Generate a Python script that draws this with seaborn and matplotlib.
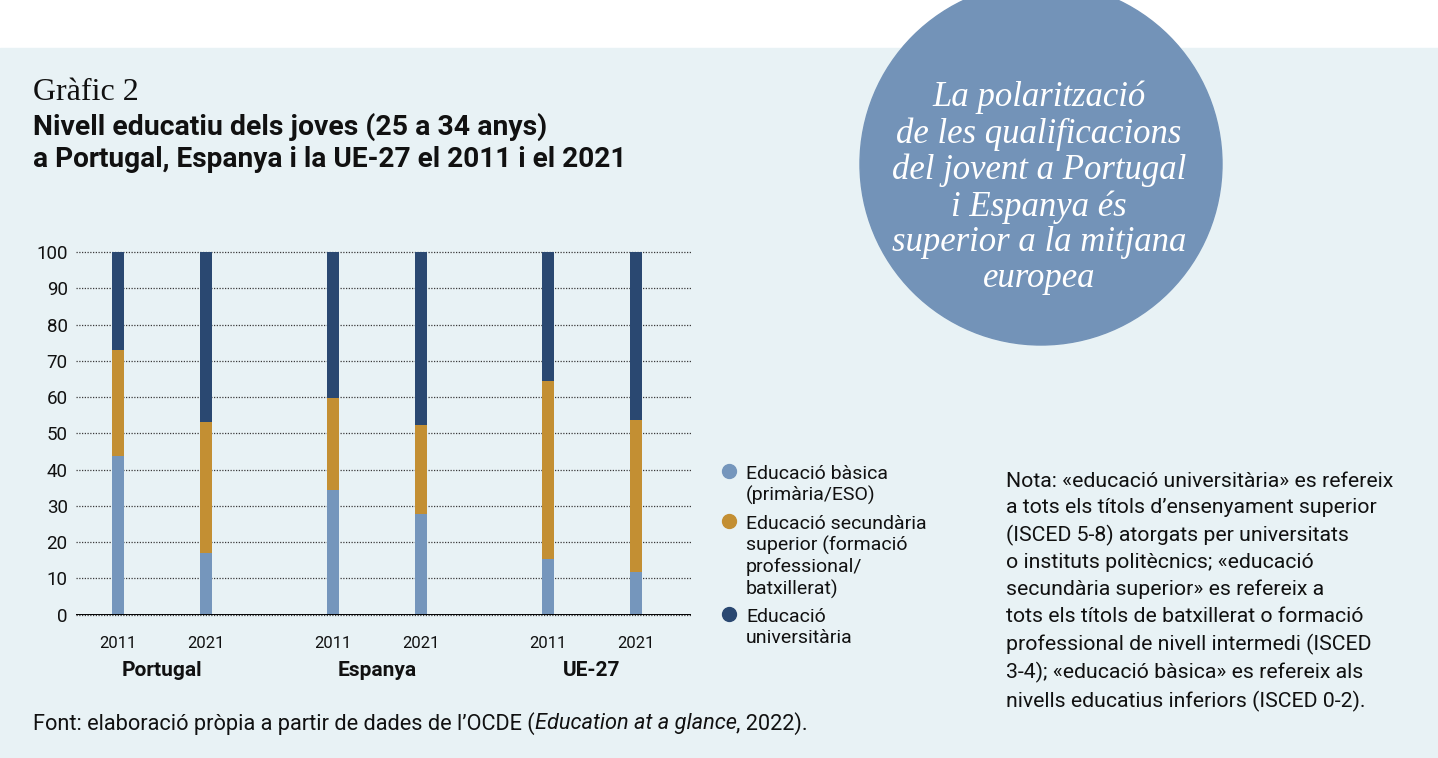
import matplotlib
matplotlib.use("Agg")
import matplotlib.pyplot as plt
import matplotlib.transforms as mtrans
from matplotlib.patches import Circle, Rectangle
import pandas as pd
import seaborn as sns

# dades (percentatge de joves de 25 a 34 anys)
paisos = ["Portugal", "Espanya", "UE-27"]
anys = ["2011", "2021"]
basica = [43.8, 16.9, 34.3, 27.8, 15.3, 11.7]
secundaria = [29.2, 36.2, 25.5, 24.5, 49.2, 42.0]
universitaria = [27.0, 46.9, 40.2, 47.7, 35.5, 46.3]
y_ticks = list(range(0, 101, 10))

legend_labels = [
    "Educació bàsica\n(primària/ESO)",
    "Educació secundària\nsuperior (formació\nprofessional/\nbatxillerat)",
    "Educació\nuniversitària",
]
nota = (
    "Nota: «educació universitària» es refereix\n"
    "a tots els títols d’ensenyament superior\n"
    "(ISCED 5-8) atorgats per universitats\n"
    "o instituts politècnics; «educació\n"
    "secundària superior» es refereix a\n"
    "tots els títols de batxillerat o formació\n"
    "professional de nivell intermedi (ISCED\n"
    "3-4); «educació bàsica» es refereix als\n"
    "nivells educatius inferiors (ISCED 0-2)."
)
destacat = (
    "La polarització\nde les qualificacions\ndel jovent a Portugal\n"
    "i Espanya és\nsuperior a la mitjana\neuropea"
)

BG = "#E8F2F5"
C_BAS = "#7596BC"
C_SEC = "#C38F33"
C_UNI = "#2A4871"
C_CIRCLE = "#7393B8"
TXT = "#111111"

df = pd.DataFrame({
    "pais": [p for p in paisos for a in anys],
    "any": anys * len(paisos),
    "basica": basica,
    "secundaria": secundaria,
    "universitaria": universitaria,
})
df["nivell2"] = df["basica"] + df["secundaria"]
df["nivell3"] = df["nivell2"] + df["universitaria"]

sns.set_theme(style="white")
plt.rcParams["font.family"] = ["Roboto", "DejaVu Sans"]
plt.rcParams["text.color"] = TXT

W, H = 1438, 758
fig = plt.figure(figsize=(W / 100, H / 100), dpi=100, facecolor="white")

# overlay in pixel coords (background, circle, texts)
ov = fig.add_axes([0, 0, 1, 1])
ov.set_xlim(0, W)
ov.set_ylim(H, 0)
ov.axis("off")
ov.add_patch(Rectangle((0, 48), W, H - 48, color=BG, zorder=0))
ov.add_patch(Circle((1041, 164), 181, color=C_CIRCLE, zorder=1))

ov.text(1039, 188, destacat, ha="center", va="center", ma="center",
        color="white", fontsize=25, style="italic", family="Liberation Serif",
        linespacing=1.115, zorder=2)

ov.text(33, 100, "Gràfic 2", family="Liberation Serif", fontsize=23, va="baseline")
ov.text(33, 135, "Nivell educatiu dels joves (25 a 34 anys)", fontsize=20.4,
        fontweight="bold", va="baseline")
ov.text(33, 167, "a Portugal, Espanya i la UE-27 el 2011 i el 2021", fontsize=20.2,
        fontweight="bold", va="baseline")

# llegenda
leg_y = [471, 521, 614]
for lbl, col, y in zip(legend_labels, [C_BAS, C_SEC, C_UNI], leg_y):
    ov.plot([729], [y], "o", ms=10, color=col)
    ov.text(746, y - 6, lbl, fontsize=14, va="top", linespacing=1.21)

ov.text(1006, 472, nota, fontsize=15.3, va="top", linespacing=1.48)

# font (amb part en cursiva)
fs_font = 15.7
t1 = ov.text(33, 724, "Font: elaboració pròpia a partir de dades de l’OCDE (",
             fontsize=fs_font, va="center")
fig.canvas.draw()
x2 = t1.get_window_extent().x1
t2 = ov.text(x2, 724, "Education at a glance", fontsize=fs_font, va="center",
             style="italic")
fig.canvas.draw()
x3 = t2.get_window_extent().x1
ov.text(x3, 724, ", 2022).", fontsize=fs_font, va="center")

# grafic de barres apilades
ax = fig.add_axes([76 / W, (H - 614.7) / H, 615 / W, 362.7 / H])
ax.patch.set_alpha(0)
for col, color in [("nivell3", C_UNI), ("nivell2", C_SEC), ("basica", C_BAS)]:
    sns.barplot(data=df, x="pais", y=col, hue="any", palette=[color, color],
                width=0.818, gap=0.864, saturation=1, errorbar=None,
                legend=False, linewidth=0, edgecolor="none", ax=ax)

ax.set_xlim(-0.4, 2.46)
ax.set_ylim(0, 100)
ax.set_yticks(y_ticks)
ax.yaxis.grid(True, linestyle=(0, (1, 1.2)), color="#3a3a3a", linewidth=0.9)
ax.set_axisbelow(True)
for gl in ax.get_ygridlines():
    gl.set_clip_on(False)
ax.axhline(0, color="black", lw=1.4, zorder=5)
sns.despine(ax=ax, left=True, bottom=True)

off = 0.818 / 4
xpos = [g + s for g in range(len(paisos)) for s in (-off, off)]
ax.set_xticks(xpos, anys * len(paisos))
ax.tick_params(axis="x", length=0, pad=15, labelsize=12, labelcolor=TXT)
ax.tick_params(axis="y", length=0, pad=6, labelsize=13.5, labelcolor=TXT)
ax.set_xlabel("")
ax.set_ylabel("")

trans = mtrans.blended_transform_factory(ax.transData, ax.transAxes)
for g, p in enumerate(paisos):
    ax.text(g, -0.155, p, transform=trans, ha="center", va="center",
            fontsize=15, fontweight="bold")

fig.savefig("out.png", dpi=100, facecolor="white")
